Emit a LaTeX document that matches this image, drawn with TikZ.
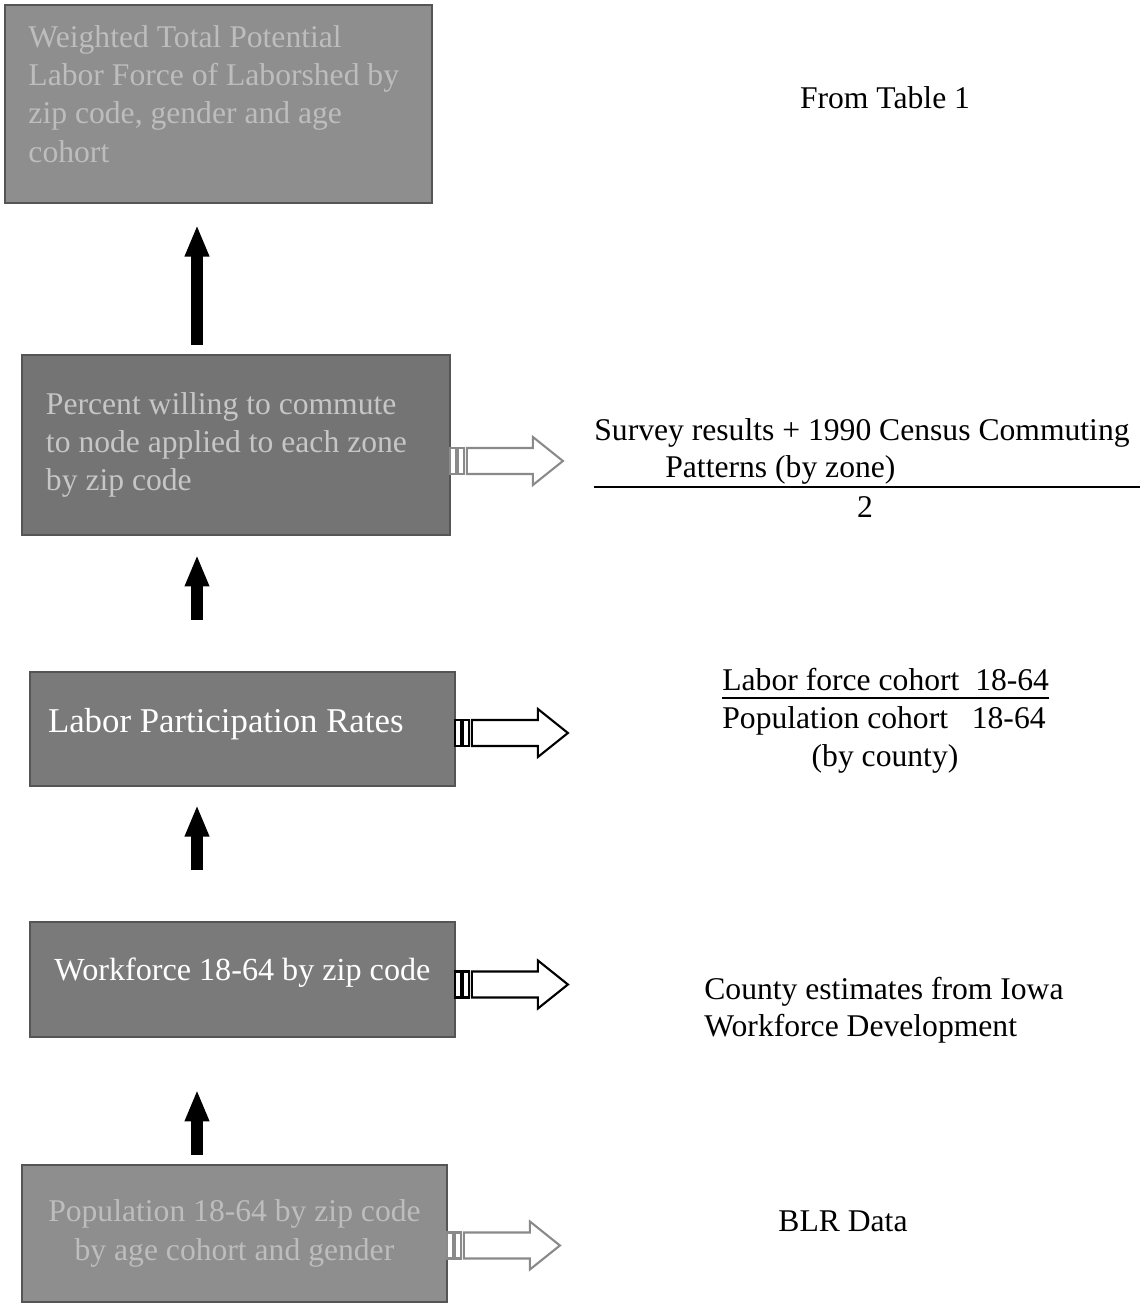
\documentclass[tikz,border=0pt]{standalone}
\usepackage{fontspec}
\setmainfont{Liberation Serif}
\usetikzlibrary{arrows.meta,calc}
\definecolor{boxA}{HTML}{8E8E8E}
\definecolor{boxAtext}{HTML}{BDBDBD}
\definecolor{boxB}{HTML}{747474}
\definecolor{boxBtext}{HTML}{C6C6C6}
\definecolor{boxC}{HTML}{7A7A7A}
\definecolor{boxedge}{HTML}{555555}
\definecolor{softarrow}{HTML}{8A8A8A}
\begin{document}
\begin{tikzpicture}[x=0.02cm,y=-0.02cm,
  txt/.style={font=\fontsize{18}{21.5}\selectfont,inner sep=0pt},
  flowbox/.style={anchor=north west,inner ysep=0pt,outer sep=0pt,draw=boxedge,line width=1.5pt,font=\fontsize{18}{21.8}\selectfont},
  uparrow/.style={line width=6.3pt,-{Triangle[width=12.8pt,length=18pt]}},
  sidearrow/.pic={
    \draw[line width=1.2pt,fill=white] (0,-13) rectangle (6,13);
    \draw[line width=1.2pt,fill=white] (8,-13) rectangle (14,13);
    \draw[line width=1.2pt,fill=white] (17,-13) -- (83,-13) -- (83,-24) -- (113,0) -- (83,24) -- (83,13) -- (17,13) -- cycle;
  }]
\useasboundingbox (0,0) rectangle (1145,1305);
\fill[white] (0,0) rectangle (1145,1305);

% boxes
\node[flowbox,fill=boxA,text=boxAtext,minimum width=8.54cm,minimum height=3.96cm,
      inner xsep=0.46cm,text width=7.6cm,align=flush left] (b1) at (5,5)
  {\mbox{Weighted Total Potential}\\\mbox{Labor Force of Laborshed by}\\\mbox{zip code, gender and age}\\cohort\\[-10pt]\mbox{}};
\node[flowbox,fill=boxB,text=boxBtext,minimum width=8.56cm,minimum height=3.6cm,
      inner xsep=0.46cm,text width=7.6cm,align=flush left] (b2) at (22,355)
  {\mbox{Percent willing to commute}\\\mbox{to node applied to each zone}\\\mbox{by zip code}};
\node[flowbox,fill=boxC,text=white,minimum width=8.5cm,minimum height=2.28cm,align=center,
      font=\fontsize{19.8}{23}\selectfont] (b3) at (30,672)
  {\raisebox{10pt}{Labor Participation Rates}\hspace{19pt}};
\node[flowbox,fill=boxC,text=white,minimum width=8.5cm,minimum height=2.3cm,align=center,
      font=\fontsize{18.3}{22}\selectfont] (b4) at (30,922)
  {\raisebox{11.5pt}{Workforce 18-64 by zip code}};
\node[flowbox,fill=boxA,text=boxAtext,minimum width=8.5cm,minimum height=2.74cm,align=center] (b5) at (22,1165)
  {Population 18-64 by zip code\\by age cohort and gender};

% vertical arrows
\coordinate (ax) at (197,0);
\draw[uparrow,shorten <=5.7pt,shorten >=12.5pt] (b2.north -| ax) -- (b1.south -| ax);
\draw[uparrow,shorten <=29.5pt,shorten >=11.3pt] (b3.north -| ax) -- (b2.south -| ax);
\draw[uparrow,shorten <=29.5pt,shorten >=10.8pt] (b4.north -| ax) -- (b3.south -| ax);
\draw[uparrow,shorten <=5.7pt,shorten >=30pt] (b5.north -| ax) -- (b4.south -| ax);

% side arrows
\pic[draw=softarrow] at ($(b2.east)+(0,16)$) {sidearrow};
\pic[draw=black] at ($(b3.east)+(0,4)$) {sidearrow};
\pic[draw=black] at ($(b4.east)+(0,5)$) {sidearrow};
\pic[draw=softarrow] at ($(b5.east)+(0,12)$) {sidearrow};

% right-hand texts
\node[txt,anchor=base] (r1) at (885,108) {From Table 1};

\node[txt,anchor=base west] (r2a) at (594,440) {Survey results + 1990 Census Commuting};
\node[txt,anchor=base west] (r2b) at (665,477) {Patterns (by zone)};
\coordinate (r2l) at (594,487);
\coordinate (r2r) at (1140,487);
\draw[line width=1.3pt] (r2l) -- (r2r);
\node[txt,anchor=base] (r2c) at (865,517) {2};

\node[txt,anchor=base west] (r3a) at (722,690) {Labor force cohort\ \ 18-64};
\coordinate (r3l) at (722,698);
\coordinate (r3r) at (1049,698);
\draw[line width=1.3pt] (r3l) -- (r3r);
\node[txt,anchor=base west] (r3b) at (722,728) {Population cohort\ \ \ 18-64};
\node[txt,anchor=base] (r3c) at (885,766) {(by county)};

\node[txt,anchor=base west] (r4a) at (704,999) {County estimates from Iowa};
\node[txt,anchor=base west] (r4b) at (704,1036) {Workforce Development};

\node[txt,anchor=base] (r5) at (843,1231) {BLR Data};
\end{tikzpicture}
\end{document}
